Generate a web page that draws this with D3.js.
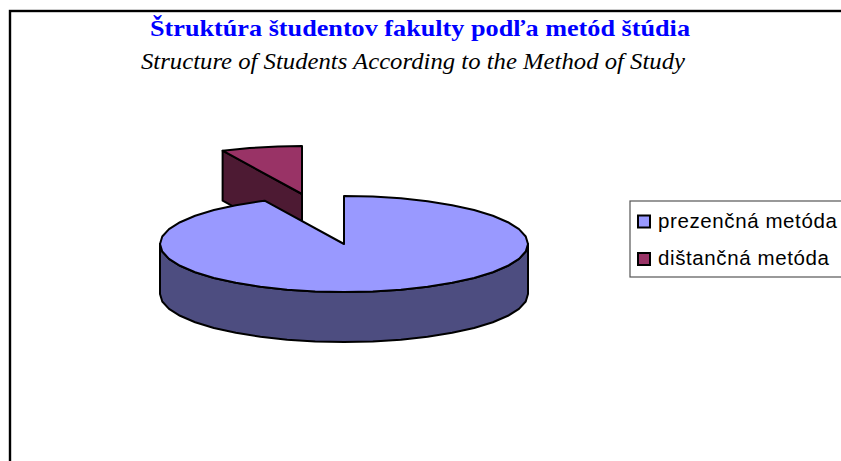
<!DOCTYPE html>
<html><head><meta charset="utf-8">
<script src="https://cdn.jsdelivr.net/npm/d3@7/dist/d3.min.js"></script>
<style>html,body{margin:0;padding:0;background:#fff;overflow:hidden}svg{display:block}</style>
</head><body><svg id="c" width="841" height="461"></svg>
<script>
const titleMain = "Štruktúra študentov fakulty podľa metód štúdia";
const titleSub = "Structure of Students According to the Method of Study";
const categories = ["prezenčná metóda", "dištančná metóda"];
const values = [92.9, 7.1];
const topColors = ["#9999ff", "#993366"];
const sideColors = ["#4d4d80", "#4d1a33"];

const svg = d3.select("#c");
svg.append("rect").attr("x",10).attr("y",11).attr("width",860).attr("height",480)
  .attr("fill","#fff").attr("stroke","#000").attr("stroke-width",2.4);

svg.append("text").attr("x",420).attr("y",36).attr("text-anchor","middle")
  .attr("font-family","'Liberation Serif',serif").attr("font-weight","bold").attr("font-size",23)
  .attr("textLength",540).attr("lengthAdjust","spacingAndGlyphs")
  .attr("fill","#0000ff").text(titleMain);
svg.append("text").attr("x",413).attr("y",69).attr("text-anchor","middle")
  .attr("font-family","'Liberation Serif',serif").attr("font-style","italic").attr("font-size",23.5)
  .attr("textLength",544).attr("lengthAdjust","spacingAndGlyphs")
  .attr("fill","#000").text(titleSub);

const rx = 184, ry = 48, depth = 50;
const centers = [{x:344,y:244},{x:302,y:194}];
const arcs = d3.pie().sort(null).startAngle(0).endAngle(2*Math.PI)(values);
const pt = (c,a,dy=0) => [c.x + rx*Math.sin(a), c.y - ry*Math.cos(a) + dy];
const step = Math.PI/20;
const sweep = (a0,a1) => { const r = d3.range(a0,a1,step); r.push(a1); return r; };
const line = d3.line().curve(d3.curveLinear);
const shape = (pts,fill) => svg.append("path").attr("d",line(pts)+"Z").attr("fill",fill)
  .attr("stroke","#000").attr("stroke-width",2).attr("stroke-linejoin","round");

// detached slice: inner wall, then top face
{
  const c = centers[1], d = arcs[1];
  const outer = pt(c,d.startAngle);
  shape([outer,[c.x,c.y],[c.x,c.y+depth],pt(c,d.startAngle,depth)], sideColors[1]);
  const pts = sweep(d.startAngle,d.endAngle).map(a=>pt(c,a));
  shape([[c.x,c.y],...pts], topColors[1]);
}
// main slice: rim wall, then top face
{
  const c = centers[0], d = arcs[0];
  const rim = sweep(Math.PI/2,3*Math.PI/2);
  shape([...rim.map(a=>pt(c,a)),...rim.slice().reverse().map(a=>pt(c,a,depth))], sideColors[0]);
  const pts = sweep(d.startAngle,d.endAngle).map(a=>pt(c,a));
  shape([[c.x,c.y],...pts], topColors[0]);
}

// legend
svg.append("rect").attr("x",630).attr("y",201).attr("width",240).attr("height",76)
  .attr("fill","#fff").attr("stroke","#555").attr("stroke-width",1.2);
const ly = d3.scalePoint().domain(categories).range([221,258.5]);
const g = svg.selectAll("g.l").data(categories).join("g").attr("class","l")
  .attr("transform",d=>`translate(0,${ly(d)})`);
g.append("rect").attr("x",638).attr("y",-5.5).attr("width",12).attr("height",12)
  .attr("fill",(d,i)=>topColors[i]).attr("stroke","#000").attr("stroke-width",2);
g.append("text").attr("x",658).attr("y",6.5)
  .attr("font-family","'Liberation Sans',Arial,sans-serif").attr("font-size",20.5)
  .attr("letter-spacing",0.6)
  .attr("fill","#000").text(d=>d);
</script></body></html>
